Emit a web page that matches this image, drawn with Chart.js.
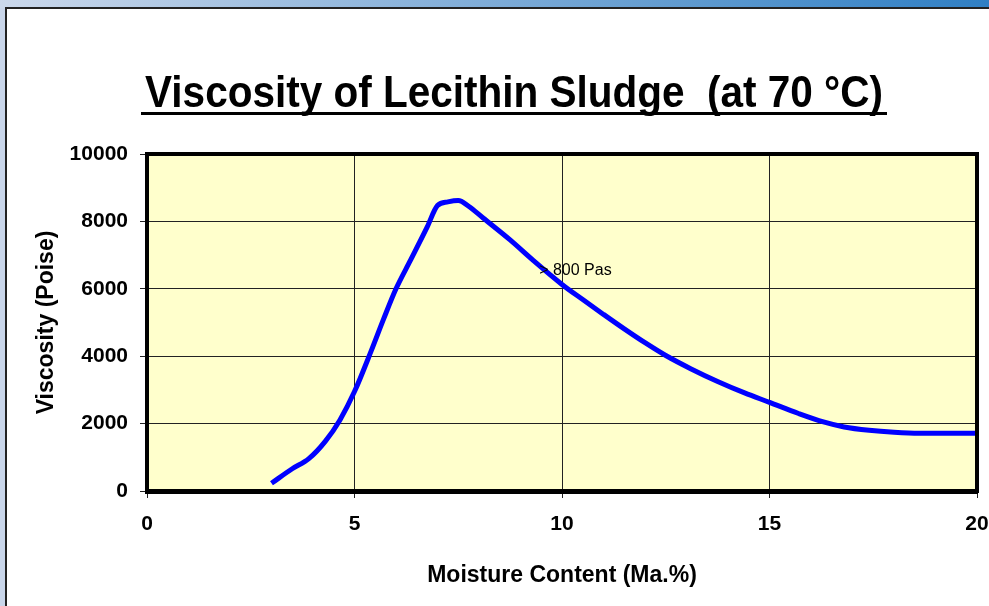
<!DOCTYPE html>
<html lang="en">
<head>
<meta charset="utf-8">
<title>Viscosity of Lecithin Sludge</title>
<script src="https://cdn.jsdelivr.net/npm/chart.js"></script>
<style>
  html, body { margin: 0; padding: 0; background: #fff; }
  #wrap { width: 989px; height: 606px; }
</style>
</head>
<body>
<div id="wrap"><canvas id="chart" width="989" height="606"></canvas></div>
<script>
// values
const moisture  = [3.0, 3.5, 3.9, 4.3, 4.65, 5.0, 5.4, 5.7, 6.0, 6.35, 6.75, 7.0, 7.25, 7.5, 7.75, 8.1, 8.75, 9.3, 10.0, 10.5, 11.0, 11.5, 12.0, 12.5, 13.1, 13.75, 14.4, 15.0, 15.7, 16.3, 16.8, 17.4, 18.0, 18.6, 20.0];
const viscosity = [230, 660, 960, 1480, 2110, 2950, 4150, 5100, 6000, 6850, 7830, 8470, 8580, 8620, 8450, 8100, 7450, 6850, 6130, 5680, 5240, 4810, 4400, 4020, 3630, 3250, 2910, 2630, 2300, 2050, 1900, 1800, 1740, 1710, 1710];
const xTicks = [0, 5, 10, 15, 20];
const yTicks = [0, 2000, 4000, 6000, 8000, 10000];

const titleText = 'Viscosity of Lecithin Sludge  (at 70 \u00B0C)';
const xTitle = 'Moisture Content (Ma.%)';
const yTitle = 'Viscosity (Poise)';
const noteText = '> 800 Pas';
const noteX = 9.45;
const noteY = 6530;

const sans = '"Liberation Sans", Arial, sans-serif';

// slide background, white panel and the yellow plot area
const pageBackground = {
  id: 'pageBackground',
  beforeDraw(chart) {
    const {ctx, width, height, chartArea: a} = chart;
    ctx.save();
    ctx.fillStyle = '#c9d6ea';
    ctx.fillRect(0, 0, width, height);
    const g = ctx.createLinearGradient(0, 0, width, 0);
    g.addColorStop(0, '#cbd8eb');
    g.addColorStop(1, '#2f7fc4');
    ctx.fillStyle = g;
    ctx.fillRect(0, 0, width, 8);
    ctx.fillStyle = '#222';
    ctx.fillRect(5, 7, width - 5, height - 7);
    ctx.fillStyle = '#fff';
    ctx.fillRect(7, 9, width - 7, height - 9);
    ctx.fillStyle = '#ffffcc';
    ctx.fillRect(a.left, a.top, a.right - a.left, a.bottom - a.top);
    ctx.restore();
  }
};

// thick top/right frame, the note and the underlined title
const extras = {
  id: 'extras',
  afterDatasetsDraw(chart) {
    const {ctx, chartArea: a, scales} = chart;
    ctx.save();
    ctx.fillStyle = '#000';
    ctx.fillRect(a.left - 2, a.top - 2, a.right - a.left + 4, 4);
    ctx.fillRect(a.right - 2, a.top - 2, 4, a.bottom - a.top + 4);

    ctx.font = '16px ' + sans;
    ctx.textAlign = 'left';
    ctx.textBaseline = 'middle';
    ctx.fillText(noteText, scales.x.getPixelForValue(noteX), scales.y.getPixelForValue(noteY));

    ctx.font = 'bold 45px ' + sans;
    ctx.textAlign = 'center';
    ctx.textBaseline = 'alphabetic';
    ctx.save();
    ctx.translate(514, 107);
    ctx.scale(0.9, 1);
    ctx.fillText(titleText, 0, 0);
    ctx.restore();
    ctx.fillRect(141, 112, 746, 3);
    ctx.restore();
  }
};

new Chart(document.getElementById('chart'), {
  type: 'line',
  data: {
    datasets: [{
      data: moisture.map((m, i) => ({x: m, y: viscosity[i]})),
      borderColor: '#0000ff',
      borderWidth: 5,
      pointRadius: 0,
      cubicInterpolationMode: 'monotone',
      fill: false
    }]
  },
  options: {
    responsive: false,
    animation: false,
    layout: { padding: { top: 154, right: 12, bottom: 0, left: 7 } },
    plugins: {
      legend: { display: false },
      title: { display: false },
      tooltip: { enabled: false }
    },
    scales: {
      x: {
        type: 'linear',
        min: 0,
        max: 20,
        afterBuildTicks: s => { s.ticks = xTicks.map(v => ({value: v})); },
        afterFit: s => { s.height = 115; s.paddingLeft = 0; s.paddingRight = 0; },
        grid: { color: '#222', lineWidth: 1, tickLength: 7, tickColor: '#222' },
        border: { color: '#000', width: 5 },
        ticks: { color: '#000', padding: 14, maxRotation: 0, callback: v => String(v),
                 font: { family: sans, size: 21, weight: 'bold' } },
        title: { display: true, text: xTitle, color: '#000', padding: { top: 0, bottom: 17 },
                 font: { family: sans, size: 23, weight: 'bold' } }
      },
      y: {
        type: 'linear',
        min: 0,
        max: 10000,
        afterBuildTicks: s => { s.ticks = yTicks.map(v => ({value: v})); },
        afterFit: s => { s.width = 140; s.paddingTop = 0; s.paddingBottom = 0; },
        grid: { color: '#222', lineWidth: 1, tickLength: 7, tickColor: '#222' },
        border: { color: '#000', width: 4 },
        ticks: { color: '#000', padding: 12, callback: v => String(v),
                 font: { family: sans, size: 21, weight: 'bold' } },
        title: { display: true, text: yTitle, color: '#000', padding: { top: 26, bottom: 0 },
                 font: { family: sans, size: 23, weight: 'bold' } }
      }
    }
  },
  plugins: [pageBackground, extras]
});
</script>
</body>
</html>
